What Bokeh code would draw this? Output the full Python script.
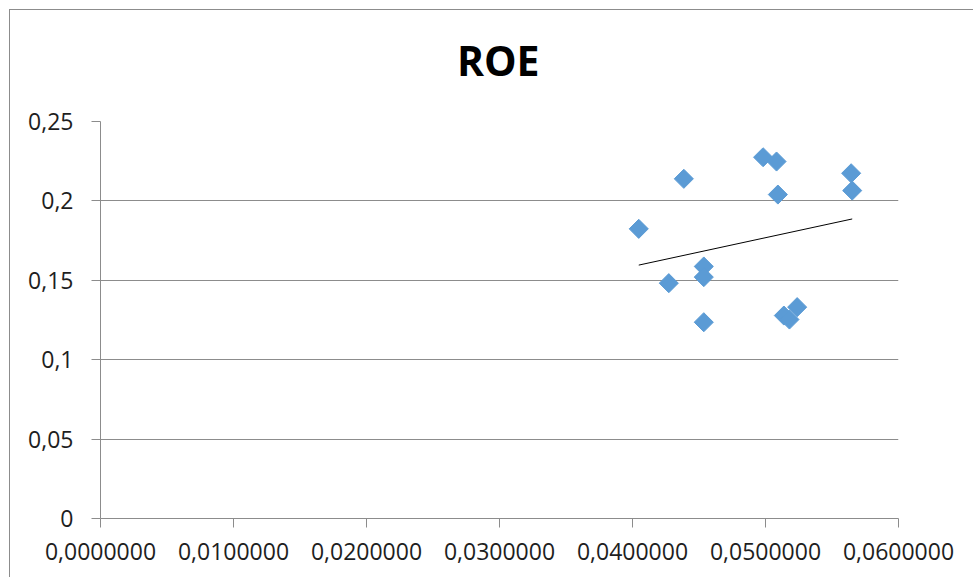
import numpy as np
from bokeh.plotting import figure
from bokeh.layouts import column
from bokeh.models import FixedTicker, Range1d
from bokeh.core.properties import value
from bokeh.embed import file_html
from bokeh.resources import INLINE

# data
x_vals = [0.04047, 0.04386, 0.04273, 0.04536, 0.04536, 0.04536, 0.04982,
          0.05083, 0.05093, 0.05644, 0.05652, 0.05138, 0.05180, 0.05238]
y_vals = [0.1824, 0.2139, 0.1482, 0.1587, 0.1520, 0.1236, 0.2275,
          0.2248, 0.2040, 0.2174, 0.2065, 0.1278, 0.1253, 0.1331]

x_ticks = [0.0, 0.01, 0.02, 0.03, 0.04, 0.05, 0.06]
x_tick_labels = ["0,0000000", "0,0100000", "0,0200000", "0,0300000",
                 "0,0400000", "0,0500000", "0,0600000"]
y_ticks = [0.0, 0.05, 0.10, 0.15, 0.20, 0.25]
y_tick_labels = ["0", "0,05", "0,1", "0,15", "0,2", "0,25"]

title_text = "ROE"

FONT = "Open Sans"
GRID = "#8c8c8c"
TXT = "#1e1e1e"

W = 963
TITLE_H = 95

# --- title strip (pixel-unit ranges, layout only) ---
tf = figure(width=W, height=TITLE_H, output_backend="svg", toolbar_location=None,
            x_range=Range1d(0, W), y_range=Range1d(TITLE_H, 0), min_border=0)
tf.axis.visible = False
tf.grid.grid_line_color = None
tf.outline_line_color = None
tf.text(x=[480], y=[49], text=[title_text], text_align="center",
        text_baseline="alphabetic", text_font=value(FONT),
        text_font_style="bold", text_font_size="41px", text_color="black")

# --- main chart ---
p = figure(width=W, height=567 - TITLE_H, output_backend="svg", toolbar_location=None,
           x_range=Range1d(0, 0.06), y_range=Range1d(0, 0.25),
           min_border_left=90, min_border_right=75, min_border_top=121 - 10 - TITLE_H,
           min_border_bottom=59)
p.outline_line_color = None
p.background_fill_color = "white"
p.border_fill_color = "white"

p.xaxis.ticker = FixedTicker(ticks=x_ticks)
p.yaxis.ticker = FixedTicker(ticks=y_ticks)
p.xaxis.major_label_overrides = {t: l for t, l in zip(x_ticks, x_tick_labels)}
p.yaxis.major_label_overrides = {t: l for t, l in zip(y_ticks, y_tick_labels)}
for ax in (p.xaxis, p.yaxis):
    ax.axis_line_color = GRID
    ax.major_tick_line_color = GRID
    ax.minor_tick_line_color = None
    ax.major_tick_in = 0
    ax.major_tick_out = 9
    ax.major_label_text_font = FONT
    ax.major_label_text_font_size = "23px"
    ax.major_label_text_color = TXT
p.yaxis.major_label_standoff = 18
p.xaxis.major_label_standoff = 15

p.xgrid.grid_line_color = None
p.ygrid.grid_line_color = GRID
p.ygrid.grid_line_width = 1

# markers (rotated squares = diamonds)
p.scatter(x_vals, y_vals, marker="square", size=13.5, angle=np.pi / 4,
          fill_color="#5B9BD5", line_color="#5B9BD5")

# linear trendline computed from data
xa = np.array(x_vals)
ya = np.array(y_vals)
m, b = np.polyfit(xa, ya, 1)
tx = np.array([xa.min(), xa.max()])
p.line(tx, m * tx + b, line_color="black", line_width=1)

layout = column(tf, p, spacing=0)
layout.margin = (9, 0, 0, 9)
layout.styles = {"border-top": "1px solid #8c8c8c", "border-left": "1px solid #8c8c8c"}

open("out.html", "w").write(file_html(layout, INLINE))
